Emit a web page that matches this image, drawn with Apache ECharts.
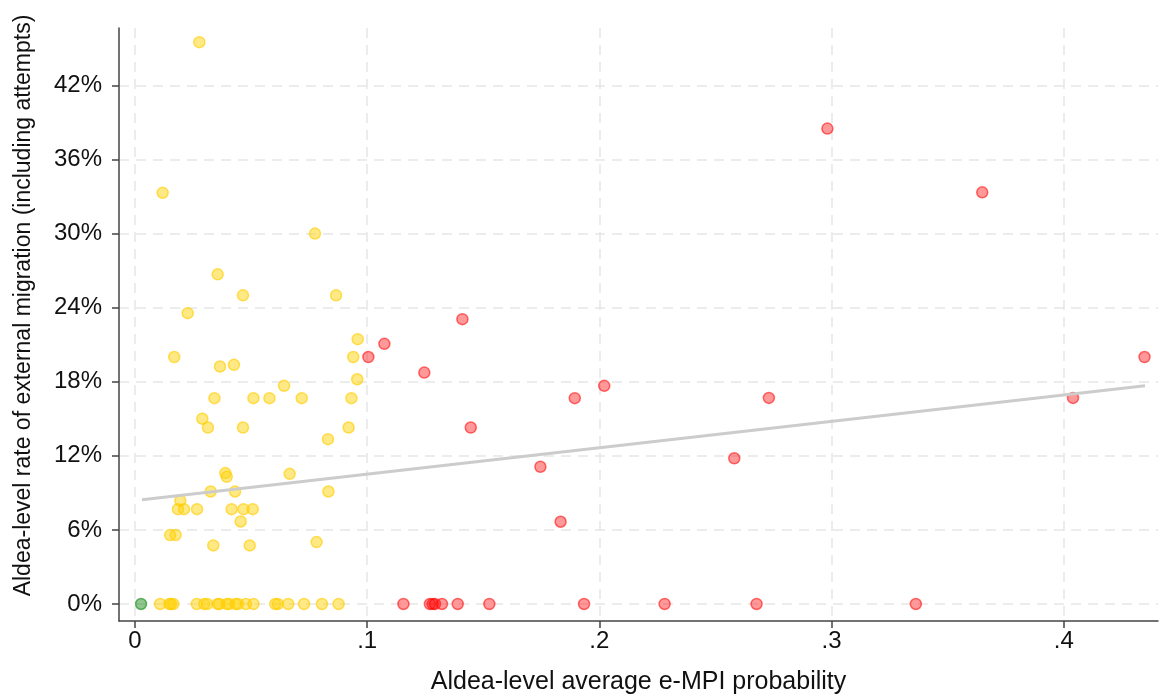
<!DOCTYPE html>
<html>
<head>
<meta charset="utf-8">
<script src="https://cdn.jsdelivr.net/npm/echarts@6/dist/echarts.min.js"></script>
<style>html,body{margin:0;padding:0;background:#fff;}#chart{width:1159px;height:700px;}</style>
</head>
<body>
<div id="chart"></div>
<script>
// Yellow group (x = e-MPI probability, y = migration rate %)
const yellowX = [0.0277,0.0119,0.0775,0.0356,0.0465,0.0866,0.0227,0.0959,0.0169,0.0940,0.0366,0.0426,0.0957,0.0642,0.0342,0.0510,0.0579,0.0718,0.0932,0.0290,0.0314,0.0465,0.0920,0.0831,0.0389,0.0395,0.0666,0.0326,0.0431,0.0833,0.0195,0.0185,0.0211,0.0267,0.0416,0.0467,0.0507,0.0455,0.0151,0.0175,0.0337,0.0494,0.0782,
  0.0108,0.0148,0.0155,0.0165,0.0266,0.0298,0.0311,0.0356,0.0363,0.0395,0.0405,0.0434,0.0444,0.0478,0.0510,0.0604,0.0615,0.0660,0.0728,0.0805,0.0877];
const yellowY = [45.5,33.3,30.0,26.7,25.0,25.0,23.55,21.45,20.0,20.0,19.23,19.37,18.2,17.67,16.67,16.67,16.67,16.67,16.67,15.0,14.29,14.29,14.29,13.35,10.6,10.3,10.54,9.11,9.11,9.11,8.36,7.68,7.68,7.68,7.68,7.68,7.68,6.68,5.58,5.58,4.74,4.74,5.01,
  0,0,0,0,0,0,0,0,0,0,0,0,0,0,0,0,0,0,0,0,0];
// Red group
const redX = [0.1074,0.1005,0.1410,0.1246,0.2021,0.1894,0.1446,0.1746,0.1833,0.2982,0.3649,0.4348,0.4040,0.2730,0.2581,
  0.1156,0.1270,0.1282,0.1292,0.1322,0.1390,0.1526,0.1934,0.2281,0.2677,0.3363];
const redY = [21.07,20.0,23.07,18.74,17.67,16.67,14.29,11.11,6.66,38.5,33.34,20.0,16.69,16.69,11.8,
  0,0,0,0,0,0,0,0,0,0,0];
// Green group
const greenX = [0.0026];
const greenY = [0];
// Linear fit endpoints
const fitX = [0.003, 0.435];
const fitY = [8.44, 17.67];
// Tick labels
const xTicks = [0, 0.1, 0.2, 0.3, 0.4];
const xTickLabels = ['0', '.1', '.2', '.3', '.4'];
const yTicks = [0, 6, 12, 18, 24, 30, 36, 42];

const zip = (a, b) => a.map((v, i) => [v, b[i]]);
const font = 'Liberation Sans, Arial, sans-serif';

const chart = echarts.init(document.getElementById('chart'), null, {renderer: 'canvas'});
const dashed = {show: true, lineStyle: {color: '#e6e6e6', width: 1.5, type: [10, 7]}};
chart.setOption({
  animation: false,
  grid: {left: 119, right: 1, top: 28, bottom: 79, containLabel: false, outerBoundsMode: 'none'},
  xAxis: {
    type: 'value', min: -0.0069, max: 0.4406,
    name: 'Aldea-level average e-MPI probability',
    nameLocation: 'middle', nameGap: 49,
    nameTextStyle: {fontFamily: font, fontSize: 25, color: '#111'},
    axisLine: {show: true, onZero: false, lineStyle: {color: '#444', width: 1.5}},
    axisTick: {show: true, length: 7, lineStyle: {color: '#444', width: 1.5}, customValues: xTicks},
    axisLabel: {fontFamily: font, fontSize: 24, color: '#111', margin: 8,
      customValues: xTicks,
      formatter: v => { const i = xTicks.findIndex(t => Math.abs(t - v) < 1e-9); return i >= 0 ? xTickLabels[i] : ''; }},
    splitLine: dashed
  },
  yAxis: {
    type: 'value', min: -1.38, max: 46.65,
    name: 'Aldea-level rate of external migration (including attempts)',
    nameLocation: 'middle', nameGap: 84, nameRotate: 90,
    nameTextStyle: {fontFamily: font, fontSize: 23, color: '#111', padding: [0, 0, 0, 38]},
    axisLine: {show: true, onZero: false, lineStyle: {color: '#444', width: 1.5}},
    axisTick: {show: true, length: 7, lineStyle: {color: '#444', width: 1.5}, customValues: yTicks},
    axisLabel: {fontFamily: font, fontSize: 24, color: '#111', margin: 17,
      customValues: yTicks, formatter: v => Math.round(v) + '%'},
    splitLine: dashed
  },
  series: [
    {type: 'scatter', data: zip(yellowX, yellowY), symbolSize: 11,
      itemStyle: {color: 'rgba(255,210,0,0.6)', borderColor: 'rgba(255,205,0,0.8)', borderWidth: 1.5}},
    {type: 'scatter', data: zip(redX, redY), symbolSize: 11,
      itemStyle: {color: 'rgba(255,0,0,0.5)', borderColor: 'rgba(255,0,0,0.7)', borderWidth: 1.5}},
    {type: 'scatter', data: zip(greenX, greenY), symbolSize: 11,
      itemStyle: {color: 'rgba(0,128,0,0.55)', borderColor: 'rgba(0,128,0,0.7)', borderWidth: 1.5}},
    {type: 'line', data: zip(fitX, fitY), symbol: 'none',
      lineStyle: {color: '#cccccc', width: 3}, z: 5}
  ]
});
</script>
</body>
</html>
